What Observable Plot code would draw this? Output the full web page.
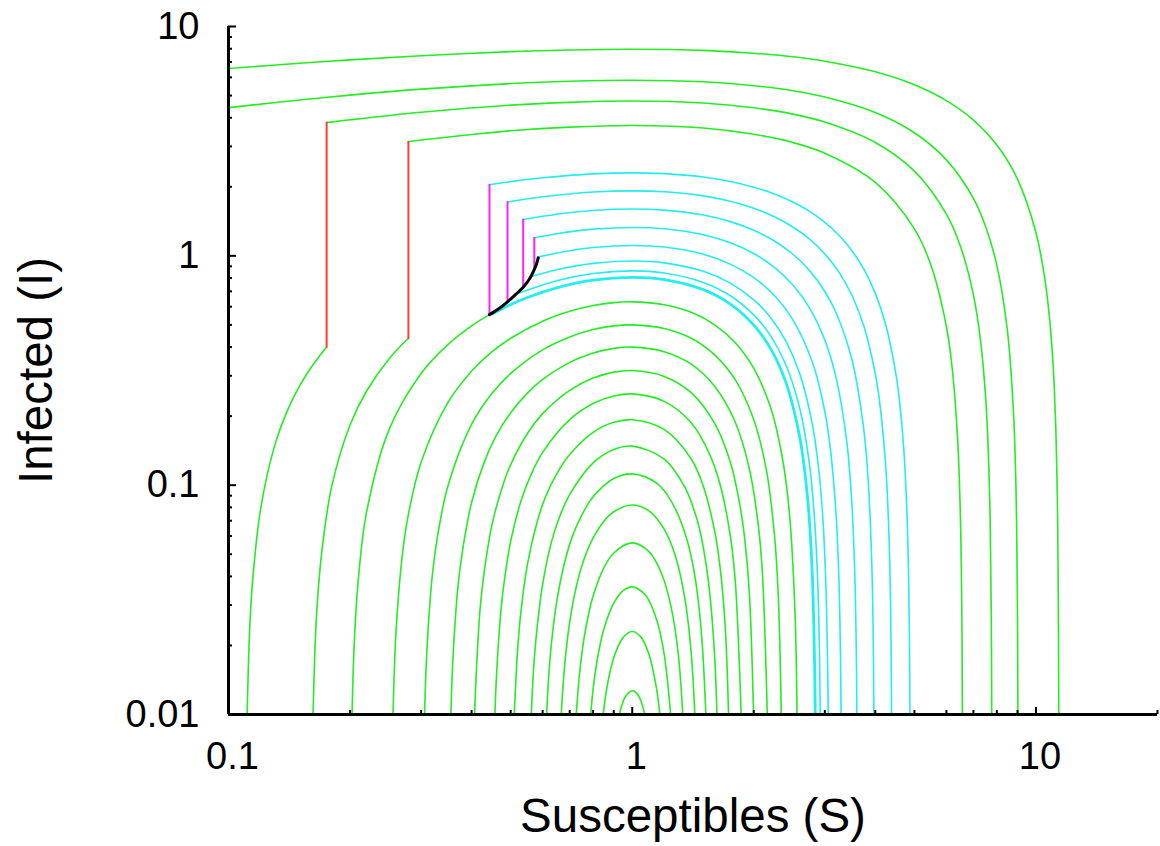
<!DOCTYPE html>
<html>
<head>
<meta charset="utf-8">
<script src="https://cdn.jsdelivr.net/npm/d3@7"></script>
<script src="https://cdn.jsdelivr.net/npm/@observablehq/plot@0.6"></script>
<style>
  html, body { margin: 0; padding: 0; background: #fff; }
  #chart svg { display: block; }
</style>
</head>
<body>
<div id="chart"></div>
<script>
// ---- axis ticks and titles ----
const xTitle = "Susceptibles (S)";
const yTitle = "Infected (I)";
const xMajor = [0.1, 1, 10];
const xMinor = [0.2, 0.3, 0.4, 0.5, 0.6, 0.7, 0.8, 0.9, 2, 3, 4, 5, 6, 7, 8, 9, 20];
const yMajor = [0.01, 0.1, 1, 10];
const yMinor = [0.02, 0.03, 0.04, 0.05, 0.06, 0.07, 0.08, 0.09,
                0.2, 0.3, 0.4, 0.5, 0.6, 0.7, 0.8, 0.9,
                2, 3, 4, 5, 6, 7, 8, 9];

// ---- large green orbits (S, I) ----
const outerGreen = [
  [[0.1,6.56],[0.15,6.91],[0.2,7.15],[0.3,7.46],[0.5,7.77],[0.7,7.9],[1,7.96],[1.5,7.87],[2,7.65],[2.5,7.38],[3,7.06],[4,6.35],[5,5.57],[6,4.75],[7,3.91],[8,3.04],[9,2.16],[10,1.26],[10.5,0.81],[10.8,0.54],[11,0.358],[11.1,0.267],[11.2,0.176],[11.3,0.085],[11.35,0.039],[11.39,0.01]],
  [[0.1,4.43],[0.15,4.78],[0.2,5.02],[0.3,5.33],[0.5,5.64],[0.7,5.77],[1,5.83],[1.5,5.74],[2,5.52],[2.5,5.25],[3,4.93],[4,4.22],[5,3.44],[6,2.62],[7,1.78],[7.5,1.345],[8,0.909],[8.5,0.47],[8.8,0.205],[8.9,0.116],[8.95,0.072],[9,0.027],[9.02,0.01]],
  [[0.175,3.81],[0.2,3.92],[0.3,4.23],[0.5,4.54],[0.7,4.67],[1,4.73],[1.5,4.64],[2,4.42],[2.5,4.15],[3,3.83],[4,3.12],[5,2.34],[6,1.52],[6.5,1.1],[7,0.676],[7.3,0.418],[7.5,0.245],[7.6,0.158],[7.7,0.071],[7.75,0.028],[7.77,0.01]],
  [[0.279,3.145],[0.3,3.2],[0.4,3.38],[0.5,3.51],[0.7,3.64],[1,3.7],[1.5,3.61],[2,3.39],[2.5,3.12],[3,2.8],[4,2.09],[5,1.31],[5.5,0.905],[6,0.492],[6.2,0.325],[6.4,0.156],[6.5,0.072],[6.55,0.03],[6.573,0.01]]
];

// ---- green tails after the jumps (S, I) ----
const tailGreen = [
  [[0.175,0.4],[0.16,0.325],[0.15,0.271],[0.14,0.212],[0.13,0.148],[0.12,0.078],[0.115,0.04],[0.113,0.025],[0.1112,0.01]],
  [[0.279,0.437],[0.25,0.356],[0.22,0.258],[0.2,0.183],[0.18,0.098],[0.17,0.05],[0.165,0.026],[0.162,0.01]],
  [[0.443,0.554],[0.4,0.495],[0.35,0.411],[0.3,0.307],[0.25,0.175],[0.22,0.077],[0.21,0.04],[0.205,0.021],[0.2023,0.01]]
];

// ---- nested green arcs around S = 1 (S, I) ----
const nestedGreen = [
  [[0.2556,0.01],[0.26,0.023],[0.27,0.051],[0.28,0.077],[0.3,0.126],[0.35,0.23],[0.4,0.314],[0.45,0.382],[0.5,0.437],[0.6,0.519],[0.7,0.573],[0.8,0.607],[0.9,0.625],[1,0.63],[1.2,0.612],[1.4,0.567],[1.6,0.5],[1.8,0.418],[2,0.323],[2.2,0.219],[2.35,0.134],[2.45,0.076],[2.53,0.028],[2.56,0.01]],
  [[0.306,0.01],[0.31,0.019],[0.32,0.041],[0.33,0.061],[0.35,0.1],[0.4,0.184],[0.45,0.252],[0.5,0.307],[0.6,0.389],[0.7,0.443],[0.8,0.477],[0.9,0.495],[1,0.5],[1.2,0.482],[1.4,0.437],[1.6,0.37],[1.8,0.288],[2,0.193],[2.15,0.116],[2.25,0.061],[2.3,0.033],[2.34,0.01]],
  [[0.3554,0.01],[0.36,0.018],[0.37,0.036],[0.38,0.052],[0.4,0.084],[0.43,0.126],[0.46,0.164],[0.5,0.207],[0.55,0.252],[0.6,0.289],[0.7,0.343],[0.8,0.377],[0.9,0.395],[1,0.4],[1.2,0.382],[1.4,0.337],[1.6,0.27],[1.8,0.188],[1.95,0.118],[2.05,0.068],[2.1,0.042],[2.16,0.01]],
  [[0.407,0.01],[0.41,0.014],[0.42,0.029],[0.43,0.042],[0.45,0.068],[0.48,0.102],[0.5,0.123],[0.55,0.168],[0.6,0.205],[0.7,0.259],[0.8,0.293],[0.9,0.311],[1,0.316],[1.2,0.298],[1.4,0.253],[1.6,0.186],[1.75,0.126],[1.85,0.081],[1.9,0.058],[1.95,0.034],[1.998,0.01]],
  [[0.457,0.01],[0.46,0.0135],[0.47,0.025],[0.48,0.036],[0.5,0.057],[0.53,0.085],[0.56,0.11],[0.6,0.139],[0.7,0.193],[0.8,0.227],[0.9,0.245],[1,0.25],[1.2,0.232],[1.4,0.187],[1.55,0.138],[1.65,0.101],[1.75,0.06],[1.8,0.038],[1.861,0.01]],
  [[0.5102,0.01],[0.52,0.019],[0.53,0.028],[0.55,0.045],[0.58,0.068],[0.61,0.089],[0.65,0.112],[0.7,0.136],[0.8,0.17],[0.9,0.188],[1,0.193],[1.2,0.175],[1.4,0.13],[1.5,0.099],[1.6,0.063],[1.65,0.044],[1.7,0.024],[1.732,0.01]],
  [[0.5623,0.01],[0.57,0.016],[0.58,0.023],[0.6,0.037],[0.63,0.056],[0.66,0.0725],[0.7,0.091],[0.8,0.125],[0.9,0.143],[1,0.148],[1.2,0.13],[1.35,0.098],[1.45,0.07],[1.5,0.0535],[1.55,0.036],[1.6,0.018],[1.621,0.01]],
  [[0.6137,0.01],[0.62,0.014],[0.63,0.02],[0.65,0.031],[0.68,0.046],[0.71,0.0595],[0.75,0.074],[0.8,0.089],[0.9,0.107],[1,0.112],[1.15,0.102],[1.25,0.085],[1.35,0.062],[1.42,0.043],[1.48,0.024],[1.522,0.01]],
  [[0.667,0.01],[0.68,0.0163],[0.7,0.0253],[0.73,0.0373],[0.76,0.0476],[0.8,0.0589],[0.85,0.0695],[0.9,0.0766],[1,0.082],[1.1,0.0773],[1.2,0.0643],[1.28,0.0489],[1.35,0.0321],[1.4,0.0185],[1.429,0.01]],
  [[0.7266,0.01],[0.74,0.0149],[0.76,0.0216],[0.78,0.0275],[0.8,0.0329],[0.85,0.0435],[0.9,0.0506],[1,0.056],[1.1,0.0513],[1.18,0.0415],[1.25,0.0291],[1.3,0.0184],[1.334,0.01]],
  [[0.789,0.01],[0.8,0.0129],[0.82,0.0175],[0.85,0.0235],[0.9,0.0306],[0.95,0.0347],[1,0.036],[1.08,0.033],[1.15,0.0258],[1.2,0.0183],[1.245,0.01]],
  [[0.847,0.01],[0.86,0.0122],[0.88,0.0152],[0.91,0.0187],[0.95,0.0217],[1,0.023],[1.05,0.0218],[1.1,0.0183],[1.15,0.0128],[1.17,0.01]],
  [[0.929,0.01],[0.94,0.0108],[0.96,0.0119],[1,0.0127],[1.03,0.0123],[1.05,0.0115],[1.075,0.01]]
];

// ---- cyan orbits (S, I) ----
const cyanOrbits = [
  [[4.874,0.01],[4.86,0.021],[4.83,0.045],[4.78,0.084],[4.7,0.148],[4.6,0.226],[4.5,0.304],[4.25,0.497],[4,0.686],[3.75,0.872],[3.5,1.053],[3.25,1.229],[3,1.399],[2.75,1.562],[2.5,1.716],[2.25,1.861],[2,1.993],[1.75,2.11],[1.5,2.206],[1.2,2.282],[1,2.3],[0.8,2.277],[0.6,2.189],[0.5,2.107],[0.443,2.043]],
  [[4.389,0.01],[4.37,0.025],[4.33,0.056],[4.25,0.117],[4.1,0.231],[4,0.306],[3.75,0.492],[3.5,0.673],[3.25,0.849],[3,1.019],[2.75,1.182],[2.5,1.336],[2.25,1.481],[2,1.613],[1.75,1.73],[1.5,1.826],[1.2,1.902],[1,1.92],[0.8,1.897],[0.6,1.809],[0.491,1.718]],
  [[3.968,0.01],[3.95,0.024],[3.92,0.046],[3.85,0.098],[3.75,0.172],[3.5,0.353],[3.2,0.563],[3,0.699],[2.75,0.862],[2.5,1.016],[2.25,1.161],[2,1.293],[1.75,1.41],[1.5,1.506],[1.2,1.582],[1,1.6],[0.8,1.577],[0.65,1.519],[0.537,1.441]],
  [[3.601,0.01],[3.59,0.018],[3.56,0.04],[3.5,0.083],[3.4,0.154],[3.2,0.293],[3,0.429],[2.75,0.592],[2.5,0.746],[2.25,0.891],[2,1.023],[1.75,1.14],[1.5,1.236],[1.2,1.312],[1,1.33],[0.8,1.307],[0.65,1.249],[0.572,1.199]],
  [[3.291,0.01],[3.28,0.018],[3.25,0.039],[3.2,0.073],[3.1,0.141],[3,0.209],[2.8,0.34],[2.5,0.526],[2.25,0.671],[2,0.803],[1.75,0.92],[1.5,1.016],[1.2,1.092],[1,1.11],[0.8,1.087],[0.7,1.053],[0.585,0.989]],
  [[3.058,0.01],[3.05,0.015],[3.02,0.035],[2.97,0.069],[2.9,0.115],[2.8,0.18],[2.6,0.306],[2.4,0.426],[2.2,0.539],[2,0.643],[1.75,0.76],[1.5,0.856],[1.2,0.932],[1,0.95],[0.8,0.927],[0.65,0.869],[0.556,0.807]],
  [[2.922,0.01],[2.91,0.018],[2.88,0.038],[2.83,0.07],[2.75,0.122],[2.6,0.216],[2.4,0.336],[2.2,0.449],[2,0.553],[1.75,0.67],[1.5,0.766],[1.2,0.842],[1,0.86],[0.8,0.837],[0.65,0.779],[0.514,0.68]]
];
// the dense cyan bundle that runs into the bottom of the black curve
const cyanBundle = [
  [[2.84,0.01],[2.83,0.016],[2.8,0.036],[2.75,0.068],[2.7,0.099],[2.6,0.162],[2.4,0.282],[2.2,0.395],[2,0.499],[1.75,0.616],[1.5,0.712],[1.2,0.788],[1,0.806],[0.8,0.783],[0.65,0.725],[0.55,0.658],[0.5,0.613],[0.45,0.558]]
];

// ---- vertical jumps and the black switching curve (S, I) ----
const redJumps = [
  [[0.175,3.81],[0.175,0.4]],
  [[0.279,3.145],[0.279,0.437]]
];
const magentaJumps = [
  [[0.443,2.043],[0.443,0.554]],
  [[0.491,1.718],[0.491,0.63]],
  [[0.537,1.441],[0.537,0.73]],
  [[0.572,1.199],[0.572,0.87]]
];
const blackCurve = [[0.443,0.554],[0.47,0.592],[0.493,0.634],[0.515,0.68],[0.537,0.73],[0.556,0.79],[0.57,0.86],[0.579,0.92],[0.585,0.98]];

// ---- build tables for Plot ----
const toRows = (curves, tag) =>
  curves.flatMap((pts, k) => pts.map(([S, I]) => ({id: tag + k, S, I})));

const GREEN = "#22ee22", CYAN = "#22eeee", RED = "#ff3b3b", MAGENTA = "#ff22ff";
const frameW = 1160 - 228 - 3, frameH = 846 - 26 - 132;

const chart = Plot.plot({
  width: 1160,
  height: 846,
  marginLeft: 228,
  marginRight: 3,
  marginTop: 26,
  marginBottom: 132,
  x: {type: "log", domain: [0.1, 20], label: null},
  y: {type: "log", domain: [0.01, 10], label: null},
  style: {fontFamily: "'Liberation Sans', Arial, Helvetica, sans-serif", background: "white", color: "black"},
  marks: [
    Plot.line(toRows(nestedGreen, "n"), {x: "S", y: "I", z: "id", stroke: GREEN, strokeWidth: 1.6, curve: "catmull-rom", clip: true}),
    Plot.line(toRows(outerGreen, "o"), {x: "S", y: "I", z: "id", stroke: GREEN, strokeWidth: 1.6, curve: "catmull-rom", clip: true}),
    Plot.line(toRows(tailGreen, "t"), {x: "S", y: "I", z: "id", stroke: GREEN, strokeWidth: 1.6, curve: "catmull-rom", clip: true}),
    Plot.line(toRows(cyanOrbits, "c"), {x: "S", y: "I", z: "id", stroke: CYAN, strokeWidth: 1.6, curve: "catmull-rom", clip: true}),
    Plot.line(toRows(cyanBundle, "b"), {x: "S", y: "I", z: "id", stroke: CYAN, strokeWidth: 2.8, curve: "catmull-rom", clip: true}),
    Plot.line(toRows(redJumps, "r"), {x: "S", y: "I", z: "id", stroke: RED, strokeWidth: 2}),
    Plot.line(toRows(magentaJumps, "m"), {x: "S", y: "I", z: "id", stroke: MAGENTA, strokeWidth: 2}),
    Plot.line(blackCurve.map(([S, I]) => ({S, I})), {x: "S", y: "I", stroke: "black", strokeWidth: 3, curve: "catmull-rom"}),
    // inward ticks
    Plot.ruleX(xMinor, {stroke: "black", strokeWidth: 2, insetTop: frameH - 4}),
    Plot.ruleX(xMajor, {stroke: "black", strokeWidth: 2, insetTop: frameH - 7}),
    Plot.ruleY(yMinor, {stroke: "black", strokeWidth: 2, insetRight: frameW - 4}),
    Plot.ruleY(yMajor, {stroke: "black", strokeWidth: 2, insetRight: frameW - 8}),
    // axis lines
    Plot.ruleX([0.1], {stroke: "black", strokeWidth: 3}),
    Plot.ruleY([0.01], {stroke: "black", strokeWidth: 3}),
    // tick labels
    Plot.axisX({ticks: xMajor, tickSize: 0, tickPadding: 28, dx: 4, fontSize: 38, tickFormat: d => String(d), label: null}),
    Plot.axisY({ticks: yMajor, tickSize: 0, tickPadding: 29, fontSize: 38, tickFormat: d => String(d), label: null}),
    // axis titles
    Plot.text([xTitle], {frameAnchor: "bottom", dy: 102, fontSize: 47.5, lineAnchor: "middle", textAnchor: "middle", fill: "black"}),
    Plot.text([yTitle], {frameAnchor: "left", dx: -192, rotate: -90, fontSize: 47.5, lineAnchor: "middle", textAnchor: "middle", fill: "black"})
  ]
});
document.getElementById("chart").appendChild(chart);
</script>
</body>
</html>
